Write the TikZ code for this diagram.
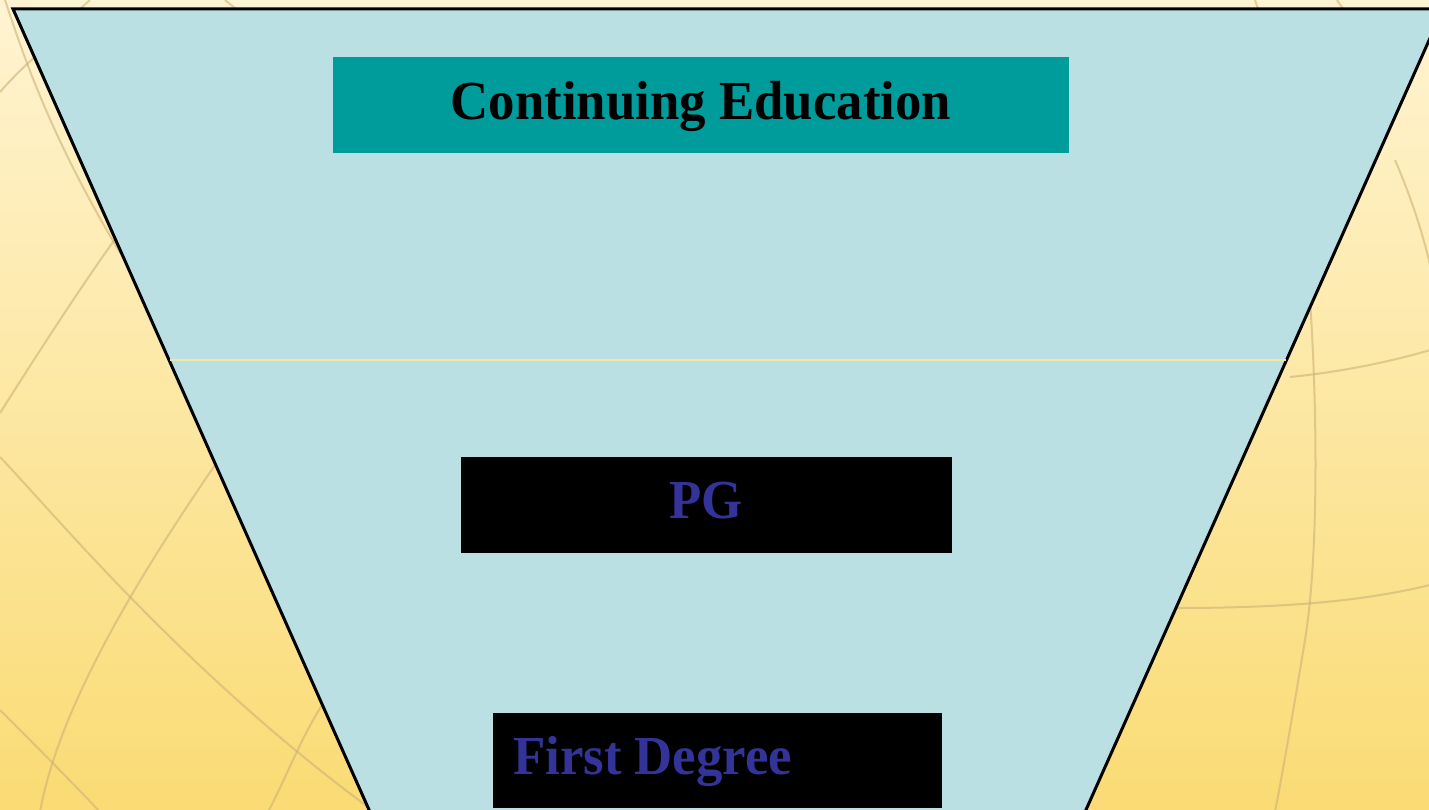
\documentclass[tikz,border=0pt]{standalone}
\usepackage{fontspec}
\newfontfamily\diafont[FakeStretch=0.96]{Liberation Serif}
\definecolor{bgtop}{HTML}{FFF4D2}
\definecolor{bgbot}{HTML}{FADB74}
\definecolor{funnel}{HTML}{BAE0E3}
\definecolor{tealbox}{HTML}{009B9B}
\definecolor{navytext}{HTML}{333399}
\definecolor{globe}{HTML}{CDB276}
\definecolor{sepline}{HTML}{F7E3A2}
\tikzset{
  globeline/.style={globe, line width=2pt, opacity=0.6},
  levelbox/.style={inner sep=0pt, minimum width=#1, minimum height=96pt},
  leveltext/.style={font=\diafont\bfseries\fontsize{55}{60}\selectfont, inner sep=0pt, anchor=base}
}
\begin{document}
\begin{tikzpicture}[x=1pt,y=-1pt]
\useasboundingbox (0,0) rectangle (1429,810);
% background
\shade[top color=bgtop, bottom color=bgbot] (0,0) rectangle (1429,810);
% faint globe lines
\begin{scope}
\clip (0,0) rectangle (1429,810);
\draw[globeline] (0,457) .. controls (60,520) and (200,690) .. (400,830);
\draw[globeline] (0,413) .. controls (40,350) and (110,240) .. (160,180);
\draw[globeline] (215,465) .. controls (150,560) and (60,700) .. (40,812);
\draw[globeline] (0,710) .. controls (30,740) and (70,780) .. (100,812);
\draw[globeline] (322,705) .. controls (300,740) and (285,780) .. (268,812);
\draw[globeline] (0,92) .. controls (15,75) and (30,60) .. (50,45);
\draw[globeline] (5,0) .. controls (25,60) and (60,170) .. (170,330);
\draw[globeline] (1290,377) .. controls (1340,372) and (1390,362) .. (1430,350);
\draw[globeline] (1175,608) .. controls (1280,608) and (1360,602) .. (1430,585);
\draw[globeline] (1310,300) .. controls (1318,420) and (1318,560) .. (1305,640) .. controls (1295,700) and (1285,760) .. (1275,812);
\draw[globeline] (1395,160) .. controls (1410,195) and (1422,230) .. (1430,265);
\draw[globeline] (90,0) -- (80,9);
\draw[globeline] (225,0) -- (236,9);
\draw[globeline] (1255,0) -- (1258,9);
\draw[globeline] (1337,0) -- (1343,9);
\end{scope}
% funnel
\coordinate (tl) at (13,9);
\coordinate (tr) at (1443,9);
\coordinate (br) at (1085,812);
\coordinate (bl) at (370,812);
\fill[funnel] (tl) -- (tr) -- (br) -- (bl) -- cycle;
\draw[line width=3pt, line join=miter] (bl) -- (tl) -- (tr) -- (br);
\coordinate (sepl) at (170,360);
\coordinate (sepr) at (1286,360);
\draw[sepline, line width=1.6pt] (sepl) -- (sepr);
% level boxes
\node[levelbox=736pt, fill=tealbox] (ce) at (701,105) {};
\node[leveltext, text=black] (cet) at (701,120) {Continuing Education};
\node[levelbox=491pt, fill=black] (pg) at (706.5,505) {};
\node[leveltext, text=navytext] (pgt) at (706,518) {PG};
\node[levelbox=449pt, fill=black, minimum height=95pt] (fd) at (717.5,760.5) {};
\node[leveltext, text=navytext, anchor=base west] (fdt) at (513,774) {First Degree};
\end{tikzpicture}
\end{document}
